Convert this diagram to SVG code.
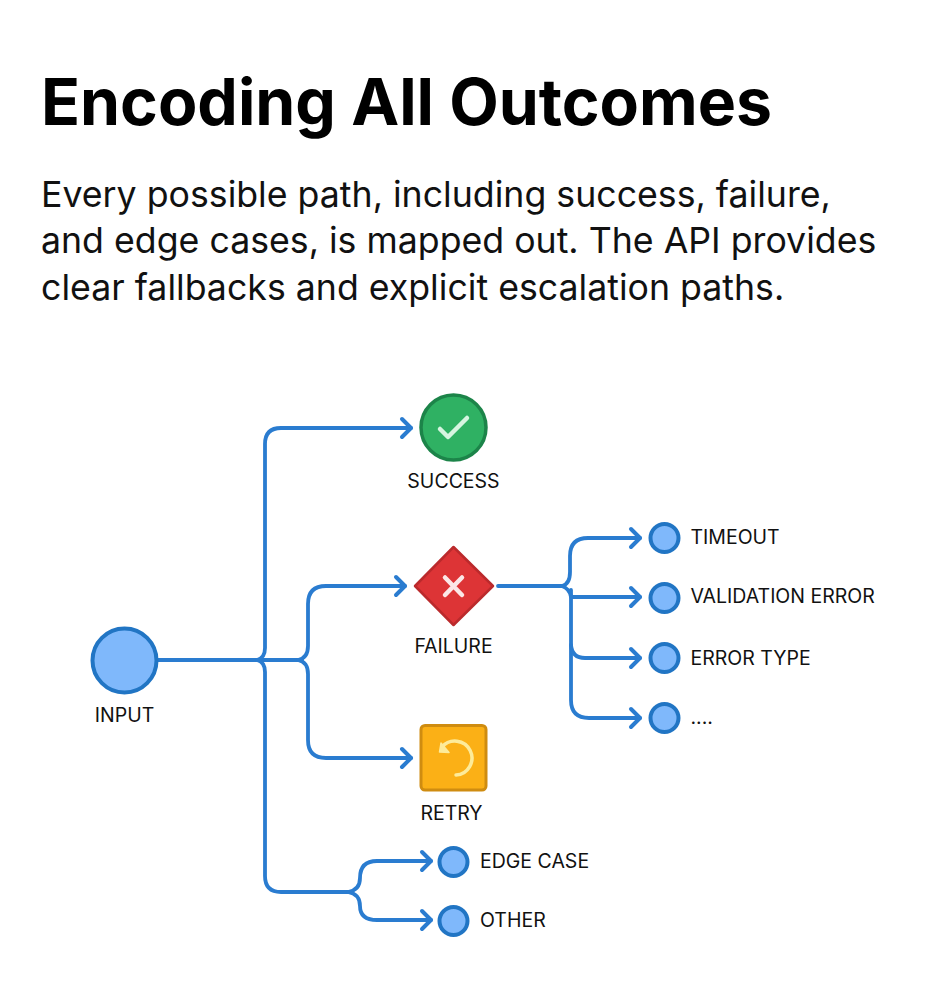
<svg xmlns="http://www.w3.org/2000/svg" width="929" height="1000" viewBox="0 0 929 1000">
<defs>
<marker id="arrow" markerUnits="userSpaceOnUse" markerWidth="16" markerHeight="24" refX="12" refY="12" orient="auto" viewBox="0 0 16 24"><path d="M3 3 L12 12 L3 21" fill="none" stroke="#2a7cd0" stroke-width="4" stroke-linecap="round" stroke-linejoin="round"/></marker>
</defs>
<style>
text{font-family:Inter,"Liberation Sans",sans-serif;fill:#111}
.title{font-size:64.3px;font-weight:700;fill:#000}
.body{font-size:35.7px;fill:#111}
.lab{font-size:19.5px}
.c{fill:none;stroke:#2a7cd0;stroke-width:3.8;stroke-linecap:round;stroke-linejoin:round}
.a{marker-end:url(#arrow)}
.dot{fill:#7fb8fb;stroke:#2175c4;stroke-width:4}
</style>
<rect width="929" height="1000" fill="#fff"/>
<text class="title" x="41" y="125">Encoding All Outcomes</text>
<text class="body" x="41" y="207">Every possible path, including success, failure,</text>
<text class="body" x="41" y="253">and edge cases, is mapped out. The API provides</text>
<text class="body" x="41" y="299.500">clear fallbacks and explicit escalation paths.</text>
<g id="connectors">
<path class="c" d="M157 660H302"/>
<path class="c a" d="M257 660Q265 658 265 648V444Q265 428 281 428H411"/>
<path class="c" d="M257 660Q265 662 265 672V876Q265 892 281 892H348"/>
<path class="c a" d="M298 660Q308 658 308 646V604Q308 586 326 586H405"/>
<path class="c a" d="M298 660Q308 662 308 674V740Q308 758 326 758H411"/>
<path class="c a" d="M348 892Q360 890 360 878Q360 861 377 861H431"/>
<path class="c a" d="M348 892Q360 894 360 906Q360 920 377 920H431"/>
<path class="c" d="M498 586H562"/>
<path class="c a" d="M562 586Q570 584 570 572V556Q570 538 588 538H640"/>
<path class="c a" d="M562 586Q570 589 571 597H640"/>
<path class="c a" d="M571 590V700Q571 718 589 718H640"/>
<path class="c a" d="M571 645Q572 658 585 658H640"/>
</g>
<g id="input"><circle cx="124.500" cy="660.500" r="32" fill="#7fb8fb" stroke="#2175c4" stroke-width="4"/><text class="lab" x="124.500" y="722" text-anchor="middle">INPUT</text></g>
<g id="success"><circle cx="453.500" cy="427.500" r="32.500" fill="#2fb163" stroke="#1c8449" stroke-width="3.500"/><path d="M440 429L448 437L467 418" fill="none" stroke="#d6f5e0" stroke-width="4.500" stroke-linecap="round" stroke-linejoin="round"/><text class="lab" x="453.500" y="488" text-anchor="middle">SUCCESS</text></g>
<g id="failure"><path d="M453.500 547L493 586L453.500 625L415 586Z" fill="#dd3436" stroke="#bb2a2c" stroke-width="2.500" stroke-linejoin="round"/><path d="M445 577.500L462 595M462 577.500L445 595" fill="none" stroke="#fbe7e7" stroke-width="4.500" stroke-linecap="round"/><text class="lab" x="453.500" y="653" text-anchor="middle">FAILURE</text></g>
<g id="retry"><rect x="421" y="725.500" width="65" height="64.500" rx="4" fill="#fbb016" stroke="#cf8c10" stroke-width="3"/><path d="M442 747A17 17 0 1 1 456 775" fill="none" stroke="#fdeb9a" stroke-width="3.500" stroke-linecap="round"/><path d="M441 743L439.500 752L449 752.500Z" fill="#fdeb9a" stroke="#fdeb9a" stroke-width="1.500" stroke-linejoin="round"/><text class="lab" x="451.500" y="820" text-anchor="middle">RETRY</text></g>
<g id="timeout"><circle class="dot" cx="664.500" cy="538" r="14"/><text class="lab" x="690.500" y="544">TIMEOUT</text></g>
<g id="validation-error"><circle class="dot" cx="664.500" cy="598" r="14"/><text class="lab" x="690.500" y="603">VALIDATION ERROR</text></g>
<g id="error-type"><circle class="dot" cx="664.500" cy="658" r="14"/><text class="lab" x="690.500" y="665">ERROR TYPE</text></g>
<g id="more"><circle class="dot" cx="664.500" cy="718" r="14"/><text class="lab" x="690.500" y="724">....</text></g>
<g id="edge-case"><circle class="dot" cx="453.500" cy="862" r="14"/><text class="lab" x="480" y="868">EDGE CASE</text></g>
<g id="other"><circle class="dot" cx="453.500" cy="921" r="14"/><text class="lab" x="480" y="927">OTHER</text></g>
</svg>
